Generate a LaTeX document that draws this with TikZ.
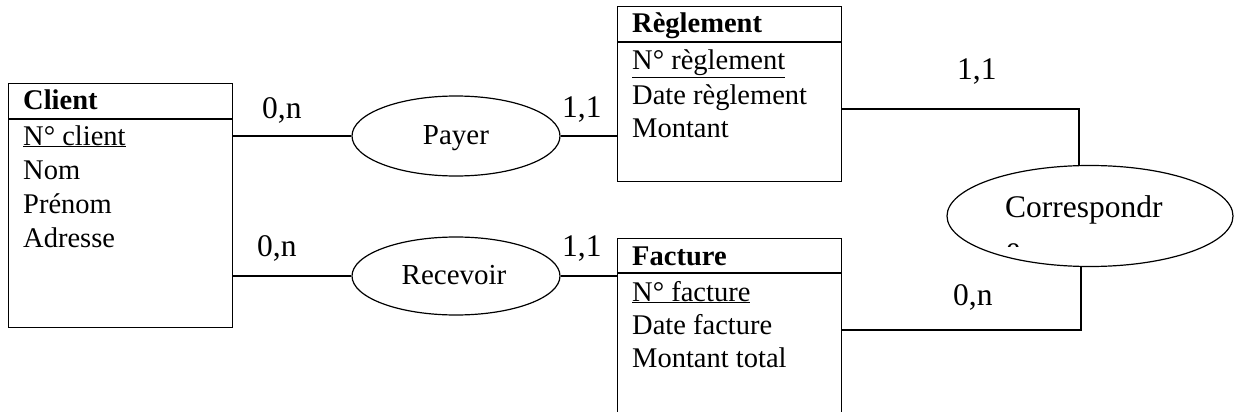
\documentclass[tikz,border=0pt]{standalone}
\usepackage{fontspec}
\setmainfont{Liberation Serif}
\usetikzlibrary{shapes.geometric}
\begin{document}
\begin{tikzpicture}[x=1pt,y=-1pt,
  ent/.style={draw, line width=1.3pt, rectangle, anchor=north west, inner sep=0pt, minimum width=224pt},
  rel/.style={draw, ellipse, line width=1.2pt, inner sep=0pt},
  attr/.style={anchor=base west, inner sep=0pt, font=\fontsize{28.5}{30}\selectfont},
  attrb/.style={attr, font=\fontsize{28.5}{30}\selectfont\bfseries},
  reltext/.style={anchor=base, inner sep=0pt, font=\fontsize{29}{30}\selectfont},
  card/.style={anchor=base west, inner sep=0pt, font=\fontsize{31.5}{32}\selectfont},
  link/.style={line width=1.3pt}]
\useasboundingbox (0,0) rectangle (1234,412);
% entities
\node[ent, minimum height=244pt] (client) at (8,83) {};
\node[ent, minimum height=175pt] (regl) at (617,6) {};
\node[ent, minimum height=190pt] (fact) at (617,238) {};
\coordinate (hc) at (0,119);
\coordinate (hr) at (0,42);
\coordinate (hf) at (0,273);
\draw[link] (client.west |- hc) -- (client.east |- hc);
\draw[link] (regl.west |- hr) -- (regl.east |- hr);
\draw[link] (fact.west |- hf) -- (fact.east |- hf);
% client texts
\node[attrb] (c0) at (23,110) {Client};
\node[attr] (c1) at (23,145) {\underline{N° client}};
\node[attr] (c2) at (23,179) {Nom};
\node[attr] (c3) at (23,213) {Prénom};
\node[attr] (c4) at (23,247) {Adresse};
% reglement texts
\node[attrb] (r0) at (632,33) {Règlement};
\node[attr] (r1) at (632,70) {\underline{N° règlement}};
\node[attr] (r2) at (632,104) {Date règlement};
\node[attr] (r3) at (632,137) {Montant};
% facture texts
\node[attrb] (f0) at (632,265) {Facture};
\node[attr] (f1) at (632,301) {\underline{N° facture}};
\node[attr] (f2) at (632,334) {Date facture};
\node[attr] (f3) at (632,367) {Montant total};
% relations
\node[rel, minimum width=208pt, minimum height=80pt] (payer) at (456,136) {};
\node[rel, minimum width=208pt, minimum height=78pt] (recevoir) at (456,276) {};
\node[rel, minimum width=286pt, minimum height=101pt] (corr) at (1090,216) {};
\node[reltext] (tp) at (456,144) {Payer};
\node[reltext] (tr) at (454,284) {Recevoir};
\node[card] (tc) at (1005,217) {Correspondr};
\begin{scope}
  \clip (995,230) rectangle (1040,246);
  \node[card] (tce) at (1006,258) {e};
\end{scope}
% links
\draw[link] (payer.west -| client.east) -- (payer.west);
\draw[link] (payer.east) -- (payer.east -| regl.west);
\draw[link] (recevoir.west -| client.east) -- (recevoir.west);
\draw[link] (recevoir.east) -- (recevoir.east -| fact.west);
\coordinate (k1) at (1079,109);
\coordinate (k2) at (1081,330);
\draw[link] (k1 -| regl.east) -- (k1) -- (k1 |- corr.north);
\draw[link] (k2 -| fact.east) -- (k2) -- (k2 |- corr.south);
% cardinalities
\node[card] (l1) at (262,118) {0,n};
\node[card] (l2) at (562,117) {1,1};
\node[card] (l3) at (257,256) {0,n};
\node[card] (l4) at (562,256) {1,1};
\node[card] (l5) at (957,80) {1,1};
\node[card] (l6) at (953,305) {0,n};
\end{tikzpicture}
\end{document}
